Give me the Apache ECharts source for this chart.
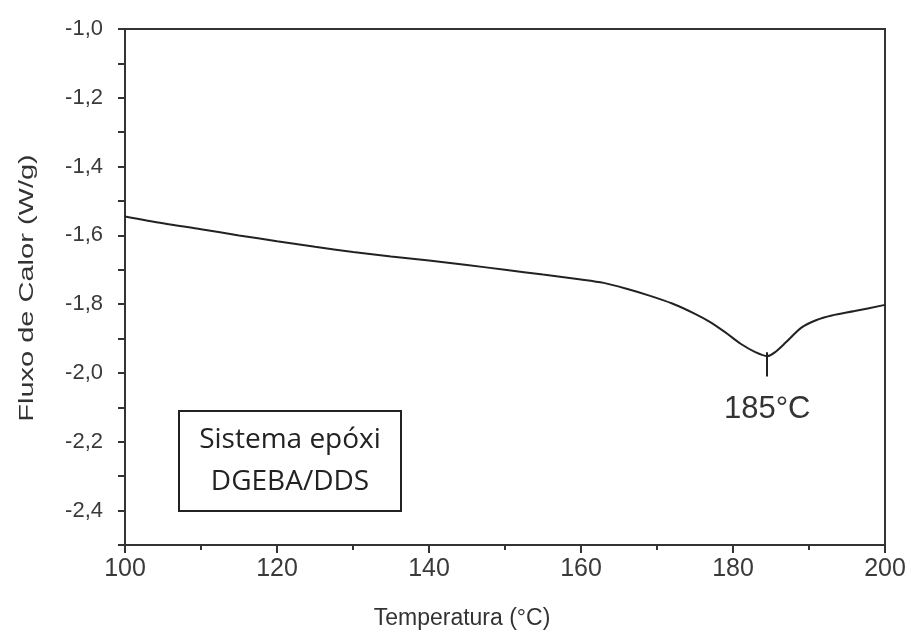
<!DOCTYPE html>
<html>
<head>
<meta charset="utf-8">
<script src="https://cdn.jsdelivr.net/npm/echarts@6/dist/echarts.min.js"></script>
<style>
html,body{margin:0;padding:0;background:#fff;}
#chart{width:911px;height:635px;}
</style>
</head>
<body>
<div id="chart"></div>
<script>
// Data
var temperatures = [100,105,110,115,120,125,130,135,140,145,150,155,160,163,166,169,172,175,177,179,181,183,184.5,185.5,187,189,191,193,196,200];
var heatFlow = [-1.545,-1.565,-1.582,-1.600,-1.617,-1.633,-1.648,-1.661,-1.673,-1.686,-1.700,-1.714,-1.728,-1.738,-1.755,-1.775,-1.798,-1.828,-1.852,-1.882,-1.915,-1.940,-1.951,-1.940,-1.910,-1.868,-1.846,-1.833,-1.820,-1.802];
var peakTemp = 184.5;
var peakTickFrom = -1.94;
var peakTickTo = -2.01;
var peakLabel = '185°C';
var xTitle = 'Temperatura (°C)';
var yTitle = 'Fluxo de Calor (W/g)';
var boxLines = ['Sistema epóxi', 'DGEBA/DDS'];

var points = temperatures.map(function(t, i){ return [t, heatFlow[i]]; });

var chart = echarts.init(document.getElementById('chart'), null, {renderer:'canvas'});
var labelFont = 'Liberation Sans, Arial, sans-serif';
var boxFont = 'Open Sans, sans-serif';
chart.setOption({
  animation: false,
  backgroundColor: '#ffffff',
  grid: {left:125, top:29, width:760, height:519, show:true, borderColor:'#333', borderWidth:2, backgroundColor:'transparent'},
  xAxis: {
    type:'value', min:100, max:200, interval:20,
    name: xTitle, nameLocation:'middle', nameGap:62,
    nameTextStyle:{fontFamily:labelFont, fontSize:23, color:'#333', padding:[0,86,0,0]},
    axisLine:{show:true, lineStyle:{color:'#333', width:2}},
    axisTick:{show:true, inside:false, length:8, lineStyle:{color:'#333', width:2}},
    minorTick:{show:true, splitNumber:2, length:5, lineStyle:{color:'#333', width:2}},
    splitLine:{show:false},
    axisLabel:{fontFamily:labelFont, fontSize:25, color:'#3a3a3a', margin:12}
  },
  yAxis: {
    type:'value', min:-2.5, max:-1.0, interval:0.1,
    axisLine:{show:true, lineStyle:{color:'#333', width:2}},
    axisTick:{show:true, inside:false, length:7, lineStyle:{color:'#333', width:2}},
    splitLine:{show:false},
    axisLabel:{fontFamily:labelFont, fontSize:22, color:'#3a3a3a', margin:22,
      formatter:function(v){
        var k = Math.round(v*10);
        if (Math.abs(k) % 2 !== 0) return '';
        return (k/10).toFixed(1).replace('.', ',');
      }}
  },
  series: [{
    type:'line', data:points, symbol:'none', smooth:0.3,
    lineStyle:{color:'#222', width:2},
    markLine:{
      silent:true, symbol:['none','none'],
      lineStyle:{color:'#222', width:2, type:'solid'},
      label:{show:true, position:'end', formatter:peakLabel, fontFamily:labelFont, fontSize:31, color:'#333', distance:18},
      data:[[{coord:[peakTemp, peakTickFrom]},{coord:[peakTemp, peakTickTo]}]]
    }
  }],
  graphic: [
    {type:'text', x:27, y:288, rotation:Math.PI/2, scaleX:1.45,
     style:{text:yTitle, fontFamily:labelFont, fontSize:20, fill:'#333', textAlign:'center', textVerticalAlign:'middle'}},
    {type:'group', left:178, top:410,
    children:[
      {type:'rect', shape:{x:0,y:0,width:222,height:100}, style:{fill:'#fff', stroke:'#222', lineWidth:2}},
      {type:'text', x:111, y:29, style:{text:boxLines[0], fontFamily:boxFont, fontSize:28, fill:'#222', textAlign:'center', textVerticalAlign:'middle'}},
      {type:'text', x:111, y:71, style:{text:boxLines[1], fontFamily:boxFont, fontSize:28, fill:'#222', textAlign:'center', textVerticalAlign:'middle'}}
    ]
  }]
});
</script>
</body>
</html>
